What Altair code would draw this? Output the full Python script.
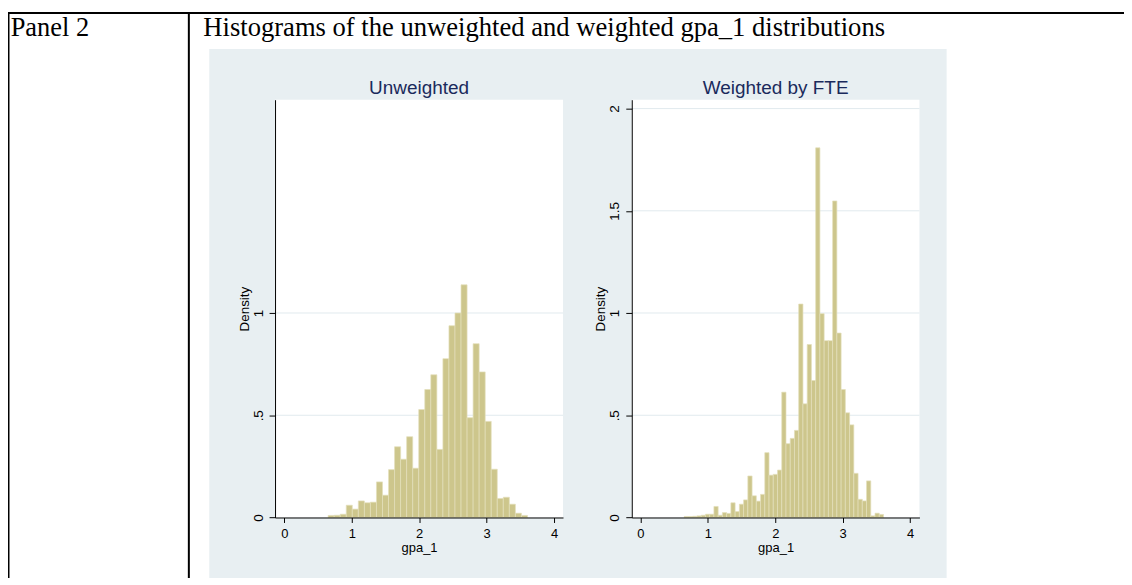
import altair as alt
import numpy as np
import pandas as pd

# ---------------- data ----------------
unweighted_density = [0.010, 0.011, 0.016, 0.060, 0.041, 0.081, 0.072, 0.075, 0.174, 0.109,
                      0.234, 0.346, 0.285, 0.395, 0.241, 0.528, 0.626, 0.698, 0.333, 0.777,
                      0.938, 1.000, 1.138, 0.488, 0.850, 0.712, 0.470, 0.236, 0.093, 0.099,
                      0.065, 0.021, 0.010]
weighted_density = [0.005, 0.005, 0.006, 0.008, 0.011, 0.016, 0.016, 0.054, 0.011, 0.024,
                    0.020, 0.072, 0.029, 0.065, 0.086, 0.203, 0.106, 0.080, 0.113, 0.317,
                    0.207, 0.211, 0.232, 0.613, 0.361, 0.387, 0.426, 1.044, 0.556, 0.846,
                    0.670, 1.808, 0.997, 0.865, 0.865, 1.548, 0.902, 0.626, 0.512, 0.453,
                    0.216, 0.089, 0.081, 0.179, 0.008, 0.021, 0.015]
gpa_min, gpa_max = 0.65, 3.606
x_ticks = [0, 1, 2, 3, 4]
y_ticks_left = [0, 0.5, 1]
y_ticks_right = [0, 0.5, 1, 1.5, 2]
grid_left = [0.5, 1]
grid_right = [0.5, 1, 1.5, 2]
panel_label = "Panel 2"
heading = "Histograms of the unweighted and weighted gpa_1 distributions"
titles = ["Unweighted", "Weighted by FTE"]

# ---------------- layout (chart coordinates; page = chart + 8) ----------------
W, H = 1120, 571
BG = "#e8eff2"
BAR = "#cdc68c"
BAR_EDGE = "#e3e0bb"
GRID = "#e1eaee"
NAVY = "#1a2a5c"
SANS = "Liberation Sans"
SERIF = "Liberation Serif"
Y_TOP, Y_BASE = 91.0, 510.3
Y_DOM = [0, (518.3 - 99) / 205.2]

one = pd.DataFrame({"a": [0]})


def hist_df(dens):
    edges = np.linspace(gpa_min, gpa_max, len(dens) + 1)
    return pd.DataFrame({"lo": edges[:-1], "hi": edges[1:], "density": dens,
                         "zero": [0.0] * len(dens)})


def panel(dens, xr, xd, yticks, gridvals, title):
    xscale = alt.Scale(domain=xd, range=xr, nice=False, zero=False)
    yscale = alt.Scale(domain=Y_DOM, range=[Y_BASE, Y_TOP], nice=False, zero=False)
    xaxis = alt.Axis(values=x_ticks, orient="bottom", offset=Y_BASE - H, grid=False,
                     domainColor="black", domainWidth=1, tickColor="black", tickSize=5,
                     tickWidth=1, labelFont=SANS, labelFontSize=13, labelColor="black",
                     labelPadding=15.5, labelBaseline="alphabetic", labelAlign="center",
                     labelAngle=0, labelFlush=False, labelOverlap=False, format="d",
                     title="gpa_1", titleFont=SANS, titleFontSize=13,
                     titleFontWeight="normal", titleColor="black",
                     titleX=(xr[0] + xr[1]) / 2, titleY=34, titleAlign="center",
                     titleBaseline="alphabetic", zindex=2)
    yaxis = alt.Axis(values=yticks, orient="left", offset=-xr[0], grid=False,
                     domainColor="black", domainWidth=1, tickColor="black", tickSize=6,
                     tickWidth=1, labelFont=SANS, labelFontSize=13.5, labelColor="black",
                     labelAngle=270, labelAlign="center", labelBaseline="alphabetic",
                     labelPadding=7, labelFlush=False, labelOverlap=False,
                     labelExpr="datum.value == 0.5 ? '.5' : format(datum.value, '~g')",
                     title="Density", titleFont=SANS, titleFontSize=13.5,
                     titleFontWeight="normal", titleColor="black", titleAngle=270,
                     titleX=-27, titleY=(Y_TOP + Y_BASE) / 2, titleAlign="center",
                     titleBaseline="alphabetic", zindex=2)
    gdf = pd.DataFrame({"density": gridvals})
    grid = alt.Chart(gdf).mark_rule(color=GRID, strokeWidth=1).encode(
        y=alt.Y("density:Q", scale=yscale, axis=yaxis),
        x=alt.value(xr[0]), x2=alt.value(xr[1]))
    bars = alt.Chart(hist_df(dens)).mark_rect(
        color=BAR, stroke=BAR_EDGE, strokeWidth=0.7).encode(
        x=alt.X("lo:Q", scale=xscale, axis=xaxis),
        x2="hi:Q",
        y=alt.Y("density:Q", scale=yscale, axis=yaxis),
        y2="zero:Q")
    ttl = alt.Chart(one).mark_text(text=title, font=SANS, fontSize=19, color=NAVY,
                                   align="center", baseline="alphabetic").encode(
        x=alt.value((xr[0] + xr[1]) / 2), y=alt.value(85))
    return alt.layer(grid, bars, ttl)


# background and table decoration
bg = alt.Chart(one).mark_rect(color=BG).encode(
    x=alt.value(202), x2=alt.value(942), y=alt.value(40), y2=alt.value(H))
white_l = alt.Chart(one).mark_rect(color="white").encode(
    x=alt.value(268), x2=alt.value(557), y=alt.value(Y_TOP), y2=alt.value(Y_BASE))
white_r = alt.Chart(one).mark_rect(color="white").encode(
    x=alt.value(626), x2=alt.value(914.7), y=alt.value(Y_TOP), y2=alt.value(Y_BASE))
top_line = alt.Chart(one).mark_rule(color="black", strokeWidth=2).encode(
    x=alt.value(0), x2=alt.value(W), y=alt.value(4))
left_line = alt.Chart(one).mark_rule(color="black", strokeWidth=2).encode(
    x=alt.value(0.5), y=alt.value(3), y2=alt.value(H))
mid_line = alt.Chart(one).mark_rule(color="black", strokeWidth=2).encode(
    x=alt.value(181.5), y=alt.value(3), y2=alt.value(H))
txt_panel = alt.Chart(one).mark_text(text=panel_label, font=SERIF, fontSize=26.5,
                                     color="black", align="left",
                                     baseline="alphabetic").encode(
    x=alt.value(2.7), y=alt.value(27))
txt_head = alt.Chart(one).mark_text(text=heading, font=SERIF, fontSize=26.7,
                                    color="black", align="left",
                                    baseline="alphabetic").encode(
    x=alt.value(196), y=alt.value(27))

left_panel = panel(unweighted_density, [268, 557], [-0.1374, 4.133],
                   y_ticks_left, grid_left, titles[0])
right_panel = panel(weighted_density, [626, 914.7], [-0.1286, 4.139],
                    y_ticks_right, grid_right, titles[1])

chart = alt.layer(bg, white_l, white_r, top_line, left_line, mid_line,
                  txt_panel, txt_head, left_panel, right_panel).resolve_scale(
    x="independent", y="independent").properties(
    width=W, height=H, padding=0, autosize="none").configure_view(stroke=None)

chart.save("out.html", embed_options={"renderer": "svg", "actions": False})
